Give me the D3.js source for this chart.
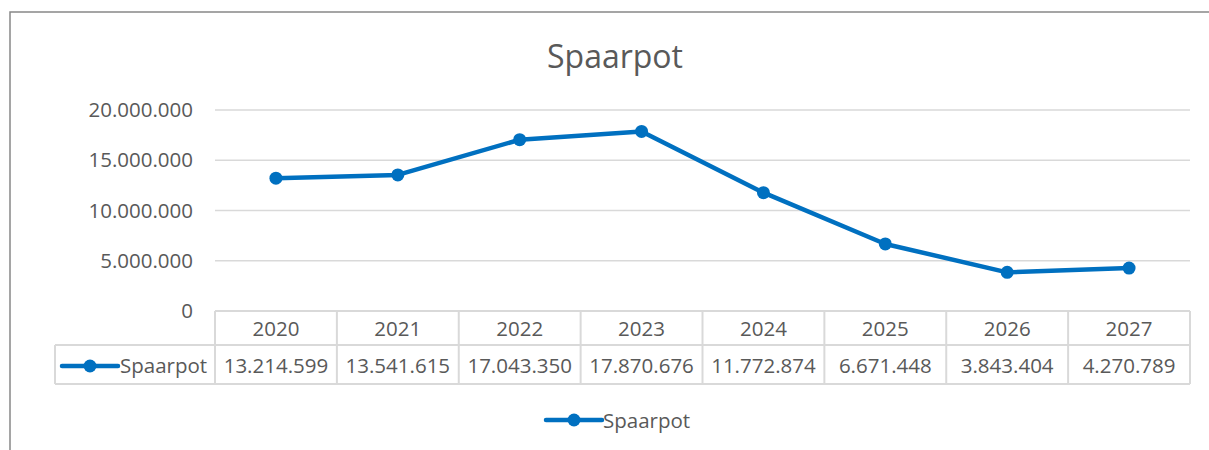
<!DOCTYPE html>
<html>
<head>
<meta charset="utf-8">
<script src="https://cdn.jsdelivr.net/npm/d3@7"></script>
<style>
  body { margin: 0; background: #fff; }
  text { font-family: "Open Sans", "Liberation Sans", sans-serif; fill: #595959; }
</style>
</head>
<body>
<div id="chart"></div>
<script>
const w = 1209;
const h = 450;

const years = ['2020', '2021', '2022', '2023', '2024', '2025', '2026', '2027'];
const values = [13214599, 13541615, 17043350, 17870676, 11772874, 6671448, 3843404, 4270789];
const yTicks = [0, 5000000, 10000000, 15000000, 20000000];
const seriesName = 'Spaarpot';

const blue = '#0070c0';
const grid = '#d9d9d9';
const fs = '20.5px';

// dutch number format
const nl = d3.formatLocale({decimal: ',', thousands: '.', grouping: [3], currency: ['€', '']});
const fmt = nl.format(',d');

const plotL = 215, plotR = 1190, plotT = 110, plotB = 311;
const rowH1 = 34, rowH2 = 39;

const xScale = d3.scaleBand()
  .domain(years)
  .range([plotL, plotR]);

const yScale = d3.scaleLinear()
  .domain([0, 20000000])
  .range([plotB, plotT]);

const svg = d3.select('#chart')
  .append('svg')
  .attr('width', w)
  .attr('height', h);

// chart border
svg.append('path')
  .attr('d', `M10,${h} V12 H${w}`)
  .attr('fill', 'none')
  .attr('stroke', '#888')
  .attr('stroke-width', 1.5);

// title
svg.append('text')
  .attr('x', 615)
  .attr('y', 68)
  .attr('text-anchor', 'middle')
  .style('font-size', '32px')
  .text(seriesName);

// gridlines
svg.selectAll('line.grid')
  .data(yTicks.filter(d => d > 0))
  .enter()
  .append('line')
  .attr('class', 'grid')
  .attr('x1', plotL)
  .attr('x2', plotR)
  .attr('y1', d => yScale(d))
  .attr('y2', d => yScale(d))
  .attr('stroke', grid)
  .attr('stroke-width', 1.5);

// y labels
svg.selectAll('text.ytick')
  .data(yTicks)
  .enter()
  .append('text')
  .attr('class', 'ytick')
  .attr('x', 193)
  .attr('y', d => yScale(d) + 7)
  .attr('text-anchor', 'end')
  .style('font-size', fs)
  .text(d => fmt(d));

// data table
const tbl = svg.append('g')
  .attr('fill', 'none')
  .attr('stroke', grid)
  .attr('stroke-width', 2);

tbl.append('line')
  .attr('x1', plotL).attr('x2', plotR)
  .attr('y1', plotB).attr('y2', plotB);
tbl.append('line')
  .attr('x1', 55).attr('x2', plotR)
  .attr('y1', plotB + rowH1).attr('y2', plotB + rowH1);
tbl.append('line')
  .attr('x1', 55).attr('x2', plotR)
  .attr('y1', plotB + rowH1 + rowH2).attr('y2', plotB + rowH1 + rowH2);
tbl.append('line')
  .attr('x1', 55).attr('x2', 55)
  .attr('y1', plotB + rowH1).attr('y2', plotB + rowH1 + rowH2);
tbl.selectAll('line.col')
  .data(years.concat(['end']))
  .enter()
  .append('line')
  .attr('class', 'col')
  .attr('x1', (d, i) => i < years.length ? xScale(d) : plotR)
  .attr('x2', (d, i) => i < years.length ? xScale(d) : plotR)
  .attr('y1', plotB)
  .attr('y2', plotB + rowH1 + rowH2);

svg.selectAll('text.year')
  .data(years)
  .enter()
  .append('text')
  .attr('class', 'year')
  .attr('x', d => xScale(d) + xScale.bandwidth() / 2)
  .attr('y', plotB + 25)
  .attr('text-anchor', 'middle')
  .style('font-size', fs)
  .text(d => d);

svg.selectAll('text.val')
  .data(values)
  .enter()
  .append('text')
  .attr('class', 'val')
  .attr('x', (d, i) => xScale(years[i]) + xScale.bandwidth() / 2)
  .attr('y', plotB + rowH1 + 28)
  .attr('text-anchor', 'middle')
  .style('font-size', fs)
  .text(d => fmt(d));

// legend key helper
function legendKey(g, x, y) {
  g.append('line')
    .attr('x1', x).attr('x2', x + 56)
    .attr('y1', y).attr('y2', y)
    .attr('stroke', blue)
    .attr('stroke-width', 4.5)
    .attr('stroke-linecap', 'round');
  g.append('circle')
    .attr('cx', x + 28).attr('cy', y)
    .attr('r', 6.5)
    .attr('fill', blue);
}

legendKey(svg, 62, plotB + rowH1 + 21);
svg.append('text')
  .attr('x', 120)
  .attr('y', plotB + rowH1 + 28)
  .style('font-size', fs)
  .text(seriesName);

legendKey(svg, 546, 420);
svg.append('text')
  .attr('x', 603)
  .attr('y', 428)
  .style('font-size', fs)
  .text(seriesName);

// line
const line = d3.line()
  .x((d, i) => xScale(years[i]) + xScale.bandwidth() / 2)
  .y(d => yScale(d));

svg.append('path')
  .datum(values)
  .attr('d', line)
  .attr('fill', 'none')
  .attr('stroke', blue)
  .attr('stroke-width', 4.5)
  .attr('stroke-linejoin', 'round');

svg.selectAll('circle.pt')
  .data(values)
  .enter()
  .append('circle')
  .attr('class', 'pt')
  .attr('cx', (d, i) => xScale(years[i]) + xScale.bandwidth() / 2)
  .attr('cy', d => yScale(d))
  .attr('r', 6.5)
  .attr('fill', blue);
</script>
</body>
</html>
